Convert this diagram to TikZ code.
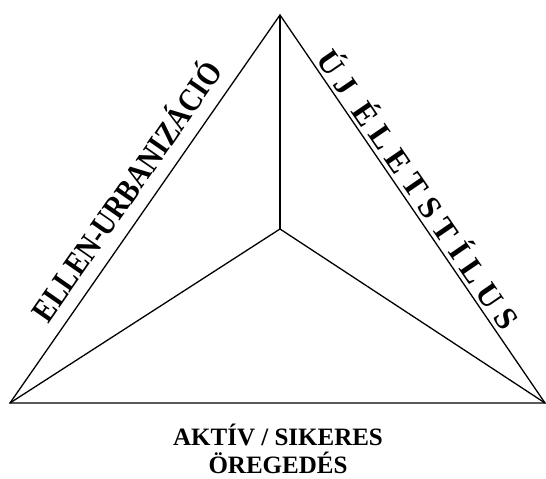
\documentclass[tikz,border=0pt]{standalone}
\usepackage{fontspec}
\setmainfont{Liberation Serif}
\begin{document}
\begin{tikzpicture}[x=1pt,y=1pt,
  edge/.style={line width=1.3pt, line join=miter},
  sidelabel/.style={font=\bfseries, inner sep=0pt, anchor=base},
  bottomlabel/.style={font=\bfseries\fontsize{25}{27.5}\selectfont, align=center, inner sep=0pt}]
\useasboundingbox (0,0) rectangle (546,479);
\coordinate (A) at (280,464);
\coordinate (L) at (10,76);
\coordinate (R) at (545,76);
\coordinate (C) at (280,250);
\draw[edge] (L) -- (A) -- (R) -- cycle;
\draw[edge] (C) -- (A);
\draw[edge] (C) -- (L);
\draw[edge] (C) -- (R);
\node[sidelabel, rotate=55.2] (left) at (136,281) {\scalebox{0.85}[1]{\fontsize{33}{36}\selectfont ELLEN-URBANIZÁCIÓ}};
\node[sidelabel, rotate=-55.6] (right) at (409,283) {\fontsize{32}{34}\selectfont\addfontfeature{LetterSpace=24}ÚJ ÉLETSTÍLUS};
\node[bottomlabel, anchor=north] (bottom) at (278,55) {AKTÍV / SIKERES\\ÖREGEDÉS};
\end{tikzpicture}
\end{document}
